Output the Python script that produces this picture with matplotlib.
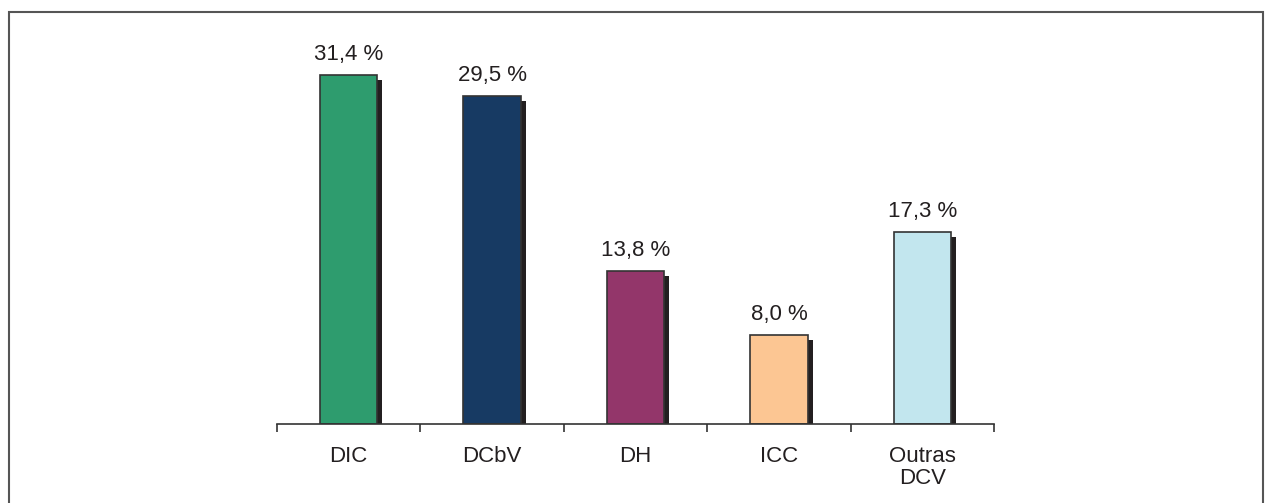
import matplotlib
matplotlib.use("Agg")
import matplotlib.pyplot as plt
from matplotlib import transforms
from matplotlib.patches import Rectangle

# data
categorias = ["DIC", "DCbV", "DH", "ICC", "Outras\nDCV"]
valores = [31.4, 29.5, 13.8, 8.0, 17.3]
rotulos = ["31,4 %", "29,5 %", "13,8 %", "8,0 %", "17,3 %"]
cores = ["#2e9c6e", "#173a63", "#93366a", "#fcc693", "#c2e6ee"]

plt.rcParams['font.family'] = ['Liberation Sans Narrow', 'Liberation Sans', 'DejaVu Sans']

W, H = 1267, 503
fig = plt.figure(figsize=(W / 100, H / 100), dpi=100)
ax = fig.add_axes([277 / W, (H - 424) / H, 717 / W, 412 / H])

x = [i + 0.5 for i in range(len(valores))]

# shadow, offset a few pixels right/down
sombra = transforms.offset_copy(ax.transData, fig=fig, x=5, y=-5, units='dots')
ax.bar(x, valores, width=0.4, color="#231f20", transform=sombra, zorder=1)
ax.bar(x, valores, width=0.4, color=cores, edgecolor="#333333", linewidth=1.2, zorder=2)

for xi, v, r in zip(x, valores, rotulos):
    ax.annotate(r, (xi, v), xytext=(0, 7), textcoords='offset points',
                ha='center', va='bottom', fontsize=16, color="#231f20")

ax.set_xlim(0, 5)
ax.set_ylim(0, 37.08)
ax.set_yticks([])
ax.set_xticks(x)
ax.set_xticklabels(categorias, fontsize=16, color="#231f20", linespacing=1.05)
ax.set_xticks(range(6), minor=True)
ax.tick_params(axis='x', which='major', length=0, pad=16)
ax.tick_params(axis='x', which='minor', length=6, width=1.2, color="#333333", direction='out')
for s in ['top', 'left', 'right']:
    ax.spines[s].set_visible(False)
ax.spines['bottom'].set_color("#333333")
ax.spines['bottom'].set_linewidth(1.2)

# frame around the figure (bottom edge cut off)
fig.patches.append(Rectangle((9 / W, -0.1), (1263 - 9) / W, 1.1 - 12 / H,
                             transform=fig.transFigure, fill=False,
                             edgecolor="#555555", linewidth=1.5))

fig.savefig("out.png", dpi=100)
